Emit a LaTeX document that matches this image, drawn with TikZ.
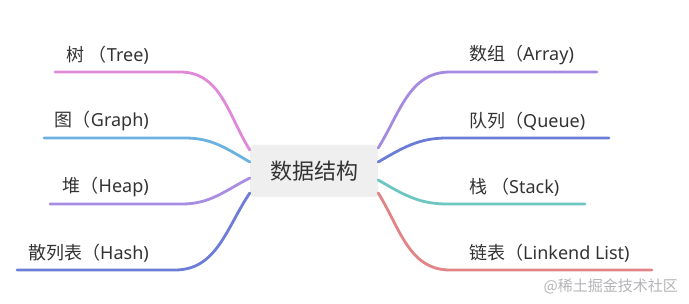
\documentclass[tikz,border=0pt]{standalone}
\usepackage{fontspec}
\setmainfont{Noto Sans}
\newfontfamily\cjk{Noto Sans CJK SC}
\definecolor{txtcol}{HTML}{333333}
\definecolor{boxcol}{HTML}{EFEFEF}
\definecolor{treecol}{HTML}{E089D8}
\definecolor{graphcol}{HTML}{6CB2E0}
\definecolor{heapcol}{HTML}{A98DE2}
\definecolor{hashcol}{HTML}{6C7DD7}
\definecolor{arraycol}{HTML}{A58BDF}
\definecolor{queuecol}{HTML}{6C7DD7}
\definecolor{stackcol}{HTML}{6CC6C1}
\definecolor{listcol}{HTML}{E08486}
\definecolor{markcol}{HTML}{B4B4B8}
\begin{document}
\begin{tikzpicture}[x=1pt,y=1pt,
  branch/.style={line width=2.8pt,line cap=round},
  lbl/.style={font=\fontsize{18}{21}\selectfont,text=txtcol,inner sep=0pt}]
\useasboundingbox (0,0) rectangle (689,-304);
\node[fill=boxcol,rounded corners=3pt,minimum width=128pt,minimum height=52pt,
  font=\cjk\fontsize{22}{26}\selectfont,text=txtcol] (root) at (314,-171) {数据结构};
\coordinate (treebend) at (180,-72);  \coordinate (treeend) at (55,-72);
\coordinate (graphbend) at (185,-138); \coordinate (graphend) at (44,-138);
\coordinate (heapbend) at (182,-204);  \coordinate (heapend) at (50,-204);
\coordinate (hashbend) at (175,-270);  \coordinate (hashend) at (17,-270);
\coordinate (arraybend) at (450,-72);  \coordinate (arrayend) at (597,-72);
\coordinate (queuebend) at (447,-138); \coordinate (queueend) at (609,-138);
\coordinate (stackbend) at (447,-204); \coordinate (stackend) at (585,-204);
\coordinate (listbend) at (450,-270);  \coordinate (listend) at (652,-270);
\draw[branch,treecol] ([yshift=21pt]root.west) to[out=122,in=0] (treebend) -- (treeend);
\draw[branch,graphcol] ([yshift=9pt]root.west) to[out=150,in=0] (graphbend) -- (graphend);
\draw[branch,heapcol] ([yshift=-7pt]root.west) to[out=207,in=0] (heapbend) -- (heapend);
\draw[branch,hashcol] ([yshift=-22pt]root.west) to[out=236,in=0] (hashbend) -- (hashend);
\draw[branch,arraycol] ([yshift=23pt]root.east) to[out=58,in=180] (arraybend) -- (arrayend);
\draw[branch,queuecol] ([yshift=9pt]root.east) to[out=30,in=180] (queuebend) -- (queueend);
\draw[branch,stackcol] ([yshift=-9pt]root.east) to[out=-30,in=180] (stackbend) -- (stackend);
\draw[branch,listcol] ([yshift=-22pt]root.east) to[out=-58,in=180] (listbend) -- (listend);
\node[lbl,anchor=east] (tree) at (149,-55) {{\cjk 树 （}Tree)};
\node[lbl,anchor=east] (graph) at (149,-121) {{\cjk 图（}Graph)};
\node[lbl,anchor=east] (heap) at (149,-187) {{\cjk 堆（}Heap)};
\node[lbl,anchor=east] (hash) at (149,-253) {{\cjk 散列表（}Hash)};
\node[lbl,anchor=west] (array) at (469,-55) {{\cjk 数组（}Array)};
\node[lbl,anchor=west] (queue) at (469,-121) {{\cjk 队列（}Queue)};
\node[lbl,anchor=west] (stack) at (469,-187) {{\cjk 栈 （}Stack)};
\node[lbl,anchor=west] (list) at (469,-253) {{\cjk 链表（}Linkend List)};
\node[font=\cjk\fontsize{15}{18}\selectfont,text=markcol,inner sep=0pt,anchor=east] (mark) at (678,-286) {@稀土掘金技术社区};
\end{tikzpicture}
\end{document}
